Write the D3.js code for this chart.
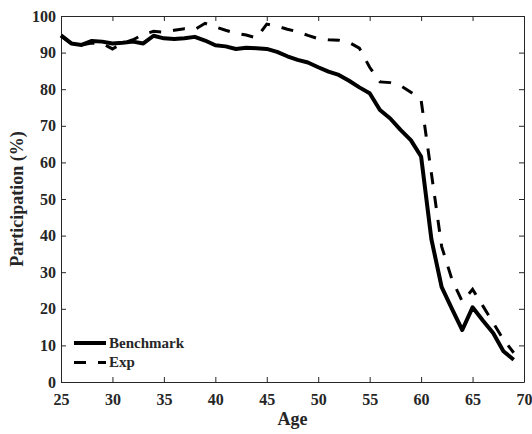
<!DOCTYPE html>
<html>
<head>
<meta charset="utf-8">
<script src="https://cdn.jsdelivr.net/npm/d3@7"></script>
<style>
  body { margin: 0; background: #fff; }
  svg text { font-family: "Liberation Serif", "Times New Roman", serif; font-weight: bold; fill: #262626; }
</style>
</head>
<body>
<div id="chart"></div>
<script>
// participation by age
const ages = d3.range(25, 70);
const benchmark = [94.7, 92.5, 92.1, 93.2, 93.0, 92.5, 92.7, 93.0, 92.5, 94.6,
  93.9, 93.7, 93.9, 94.3, 93.3, 92.0, 91.7, 91.0, 91.3, 91.2,
  91.0, 90.2, 89.0, 88.0, 87.3, 86.0, 84.8, 83.9, 82.3, 80.5,
  78.9, 74.3, 72.0, 68.9, 66.1, 61.6, 39.0, 25.9, 20.0, 14.2,
  20.4, 16.8, 13.4, 8.4, 6.1];
const expSeries = [94.5, 92.5, 92.1, 92.6, 92.5, 91.0, 92.6, 93.5, 95.0, 95.8,
  95.6, 96.1, 96.5, 96.3, 98.0, 97.0, 96.1, 95.3, 94.8, 94.0,
  97.8, 97.2, 96.4, 95.7, 94.7, 93.8, 93.5, 93.4, 92.8, 91.2,
  86.0, 82.0, 81.8, 81.0, 79.2, 77.0, 57.0, 37.0, 28.0, 22.0,
  25.3, 20.8, 16.2, 11.6, 8.0];
const xTicks = [25, 30, 35, 40, 45, 50, 55, 60, 65, 70];
const yTicks = [0, 10, 20, 30, 40, 50, 60, 70, 80, 90, 100];
const seriesNames = ["Benchmark", "Exp"];

const margin = {top: 16, right: 8, bottom: 52, left: 61};
const width = 532 - margin.left - margin.right;
const height = 434 - margin.top - margin.bottom;

const svg = d3.select("#chart")
  .append("svg")
  .attr("width", 532)
  .attr("height", 434)
  .append("g")
  .attr("transform", `translate(${margin.left}, ${margin.top})`);

const x = d3.scaleLinear().domain([25, 70]).range([0, width]);
const y = d3.scaleLinear().domain([0, 100]).range([height, 0]);

// axes with inward ticks, MATLAB box style
function styleAxis(g) {
  g.selectAll("path, line").attr("stroke", "#262626").attr("stroke-width", 1);
  g.selectAll("text").attr("font-size", 16).attr("fill", "#262626");
}

svg.append("g")
  .attr("transform", `translate(0, ${height})`)
  .call(d3.axisBottom(x).tickValues(xTicks).tickSizeInner(-5).tickSizeOuter(0).tickPadding(12))
  .call(styleAxis);

svg.append("g")
  .call(d3.axisLeft(y).tickValues(yTicks).tickSizeInner(-5).tickSizeOuter(0).tickPadding(5))
  .call(styleAxis);

svg.append("g")
  .call(d3.axisTop(x).tickValues(xTicks).tickSizeInner(-5).tickSizeOuter(0).tickFormat(""))
  .call(styleAxis);

svg.append("g")
  .attr("transform", `translate(${width}, 0)`)
  .call(d3.axisRight(y).tickValues(yTicks).tickSizeInner(-5).tickSizeOuter(0).tickFormat(""))
  .call(styleAxis);

// axis titles
svg.append("text")
  .attr("x", width / 2)
  .attr("y", height + 43)
  .attr("text-anchor", "middle")
  .attr("font-size", 18)
  .text("Age");

svg.append("text")
  .attr("transform", `translate(${-38}, ${height / 2}) rotate(-90)`)
  .attr("text-anchor", "middle")
  .attr("font-size", 18)
  .text("Participation (%)");

// lines
const line = d3.line()
  .x((d, i) => x(ages[i]))
  .y(d => y(d));

svg.append("path")
  .datum(benchmark)
  .attr("fill", "none")
  .attr("stroke", "#000")
  .attr("stroke-width", 4)
  .attr("stroke-linejoin", "round")
  .attr("d", line);

svg.append("path")
  .datum(expSeries)
  .attr("fill", "none")
  .attr("stroke", "#000")
  .attr("stroke-width", 3)
  .attr("stroke-dasharray", "12,12")
  .attr("d", line);

// legend, no box
const legend = svg.append("g").attr("transform", "translate(13, 327)");
const styles = [{w: 4, dash: null}, {w: 3, dash: "12,12"}];
seriesNames.forEach(function (name, i) {
  const row = legend.append("g").attr("transform", `translate(0, ${i * 19.5})`);
  row.append("line")
    .attr("x1", 0).attr("x2", 32)
    .attr("stroke", "#000")
    .attr("stroke-width", styles[i].w)
    .attr("stroke-dasharray", styles[i].dash);
  row.append("text")
    .attr("x", 35)
    .attr("dy", "0.33em")
    .attr("font-size", 15)
    .text(name);
});
</script>
</body>
</html>
